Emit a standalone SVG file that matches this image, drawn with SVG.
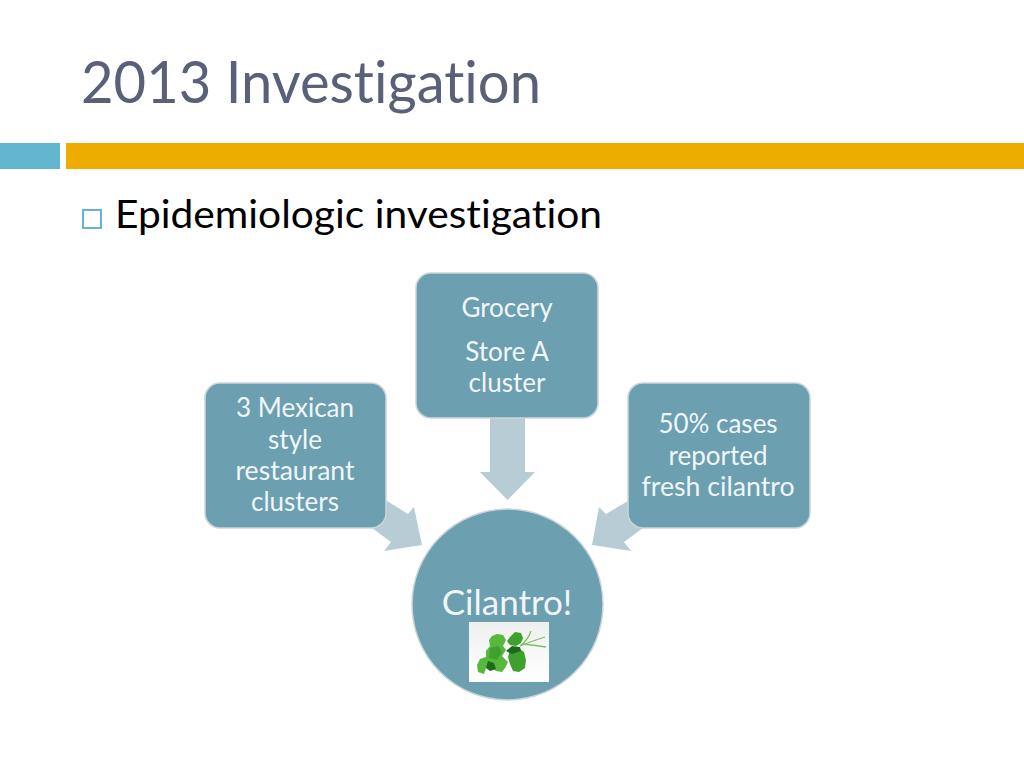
<svg xmlns="http://www.w3.org/2000/svg" width="1024" height="768" viewBox="0 0 1024 768">
<defs>
<filter id="soft" x="-10%" y="-10%" width="120%" height="120%"><feGaussianBlur stdDeviation="0.5"/></filter>
<linearGradient id="photo" x1="0" y1="0" x2="0" y2="1"><stop offset="0" stop-color="#eef0ef"/><stop offset="1" stop-color="#ffffff"/></linearGradient>
</defs>
<style>
text{font-variant-ligatures:none;font-family:Lato,"Open Sans",sans-serif}
.n{fill:#6c9fb0;stroke:#cbd6da;stroke-width:1.5}
.t{font-size:26px;fill:#f0f6f8;text-anchor:middle}
.a{fill:#b8ccd5}
.l{fill:#3fa02e}
.m{fill:#58b83e}
.d{fill:#1c6a1c}
</style>
<rect width="1024" height="768" fill="#fff"/>
<g id="header">
<text x="81" y="103" font-size="58" fill="#5b6079" textLength="460" lengthAdjust="spacingAndGlyphs">2013 Investigation</text>
<rect x="0" y="143" width="60" height="26" fill="#62b4cf"/>
<rect x="66" y="143" width="958" height="26" fill="#efac00"/>
</g>
<g id="bullet">
<rect x="83" y="210" width="18" height="18" fill="none" stroke="#62b4cf" stroke-width="2"/>
<text x="115" y="228" font-size="39" fill="#000" textLength="487" lengthAdjust="spacingAndGlyphs">Epidemiologic investigation</text>
</g>
<g id="connectors">
<polygon class="a" points="490,418 525,418 525,472 535,472 507.500,500 480,472 490,472"/>
<polygon class="a" points="387,501 408,514 414,507 422,545 384,551 391,542 372,528"/>
<polygon class="a" points="628,501 606,514 599,507 592,545 631,551 624,542 643,528"/>
</g>
<g id="node-grocery">
<rect class="n" x="416" y="273" width="182" height="145" rx="15"/>
<text class="t" x="507" y="317">Grocery</text>
<text class="t" x="507" y="361">Store A</text>
<text class="t" x="507" y="392">cluster</text>
</g>
<g id="node-restaurant">
<rect class="n" x="205" y="383" width="181" height="145" rx="15"/>
<text class="t" x="295" y="417">3 Mexican</text>
<text class="t" x="295" y="449">style</text>
<text class="t" x="295" y="480" textLength="119" lengthAdjust="spacingAndGlyphs">restaurant</text>
<text class="t" x="295" y="511">clusters</text>
</g>
<g id="node-cases">
<rect class="n" x="628" y="383" width="182" height="145" rx="15"/>
<text class="t" x="718" y="433">50% cases</text>
<text class="t" x="718" y="465">reported</text>
<text class="t" x="718" y="496" textLength="153" lengthAdjust="spacingAndGlyphs">fresh cilantro</text>
</g>
<g id="node-cilantro">
<circle class="n" cx="507.500" cy="604.500" r="95.500"/>
<text class="t" x="507" y="615" style="font-size:35px">Cilantro!</text>
<rect x="469" y="622" width="80" height="60" fill="url(#photo)"/>
<g filter="url(#soft)">
<path d="M531 631Q528 640 520 646M545 637Q532 641 520 646M546 647Q534 645 522 644" fill="none" stroke="#84bd62" stroke-width="1.300"/>
<path class="m" d="M492 636L497 634L503 635L506 640L503 646L506 650L502 656L508 662L505 668L502 672L496 671L491 666L486 668L484 674L478 672L477 665L480 659L486 657L486 651L490 646L489 640Z"/>
<path class="l" d="M510 637L515 632L521 633L523 638L521 643L516 646L510 645L507 641Z"/>
<path class="l" d="M510 650L518 648L524 652L526 660L525 668L519 672L513 671L510 664L508 657Z"/>
<path class="d" d="M486 668L488 661L494 663L496 669L490 671Z"/>
<path class="d" d="M506 651L512 646L520 647L521 651L512 654Z"/>
<path class="l" d="M490 648L498 646L502 652L497 660L489 658Z"/>
</g>
</g>
</svg>
